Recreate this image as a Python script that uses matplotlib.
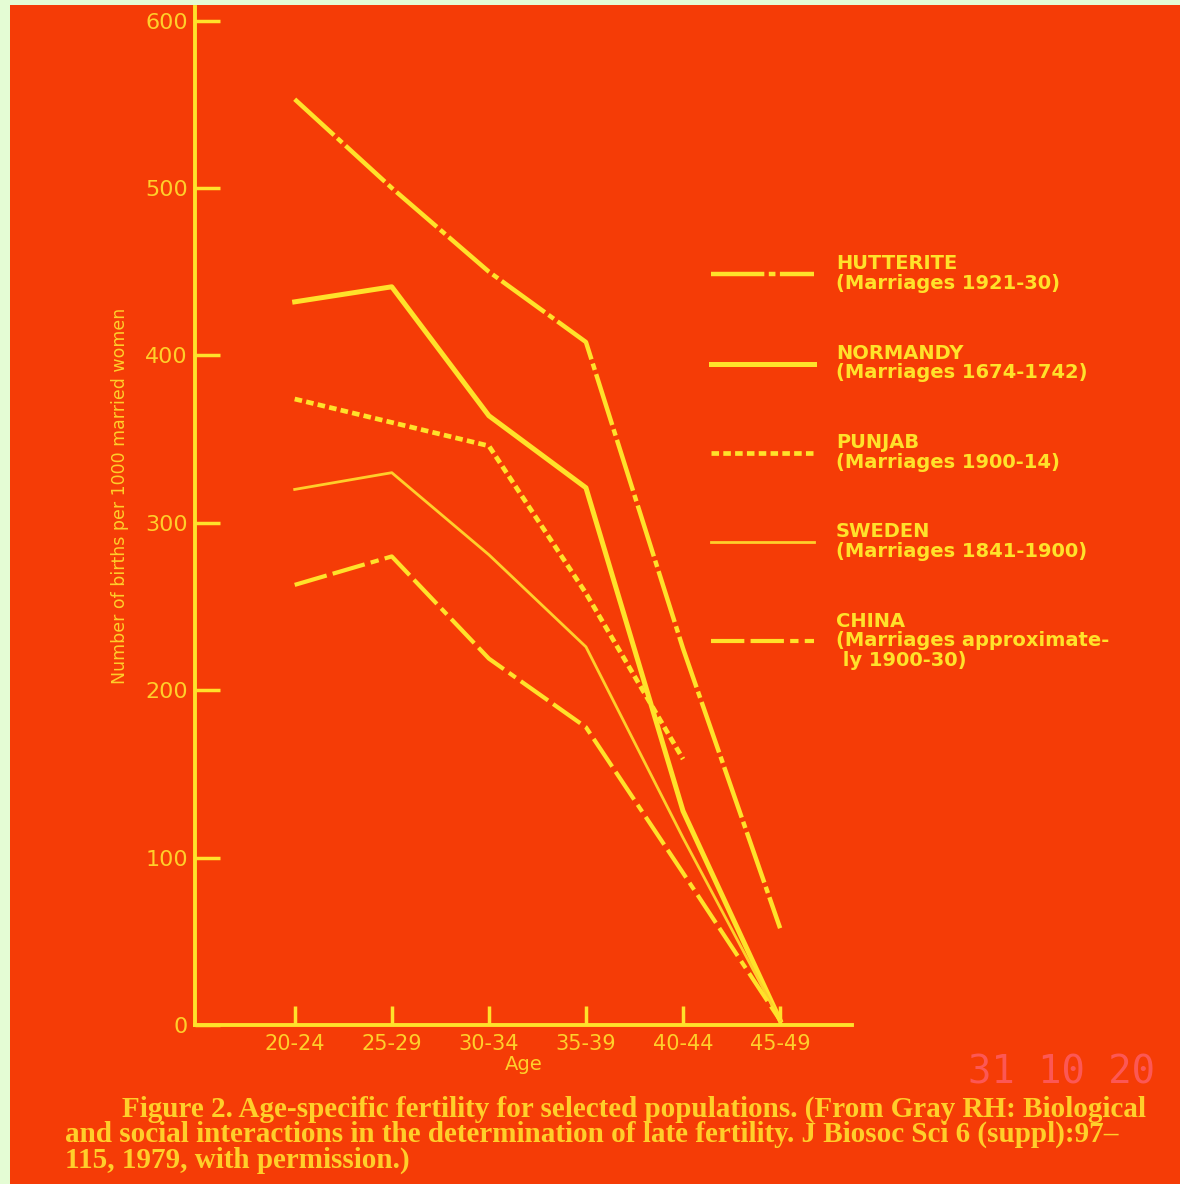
import numpy as np
import matplotlib.pyplot as plt
from matplotlib.patches import Rectangle

ages = ["20-24", "25-29", "30-34", "35-39", "40-44", "45-49"]

hutterite = [553, 500, 450, 408, 225, 58]
normandy = [432, 441, 364, 321, 128, 3]
punjab = [374, 360, 346, 258, 159, np.nan]
sweden = [320, 330, 281, 226, 112, 3]
china = [263, 280, 219, 178, 91, 3]

labels = ["HUTTERITE\n(Marriages 1921-30)",
          "NORMANDY\n(Marriages 1674-1742)",
          "PUNJAB\n(Marriages 1900-14)",
          "SWEDEN\n(Marriages 1841-1900)",
          "CHINA\n(Marriages approximate-\n ly 1900-30)"]

bg = '#f53c06'
yel = '#ffe22a'
yel2 = '#ffcf2a'

fig = plt.figure(figsize=(11.8, 11.84), dpi=100, facecolor='#e4fcd4')
fig.patches.append(Rectangle((10/1180, 0), 1, 1 - 5/1184, transform=fig.transFigure,
                             facecolor=bg, edgecolor='none', zorder=-10))

ax = fig.add_axes([0.165, 0.134, 0.557, 0.86])
ax.set_facecolor('none')
x = np.arange(len(ages))

ax.plot(x, hutterite, color=yel, lw=3.2, dashes=(12, 1, 1.5, 1), label=labels[0])
ax.plot(x, normandy, color=yel, lw=3.6, label=labels[1])
ax.plot(x, punjab, color=yel, lw=3.4, dashes=(1.6, 0.9), label=labels[2])
ax.plot(x, sweden, color=yel2, lw=2.0, label=labels[3])
ax.plot(x, china, color=yel, lw=3.0, dashes=(8, 1.5, 8, 1.5, 2, 1.5), label=labels[4])

ax.set_xlim(-1.03, 5.74)
ax.set_ylim(0, 608)
ax.set_xticks(x)
ax.set_xticklabels(ages)
ax.set_yticks([0, 100, 200, 300, 400, 500, 600])

for s in ['top', 'right']:
    ax.spines[s].set_visible(False)
for s in ['left', 'bottom']:
    ax.spines[s].set_color(yel)
    ax.spines[s].set_linewidth(2.8)

ax.tick_params(axis='y', direction='in', length=18, width=2.5, color=yel,
               labelcolor=yel2, labelsize=16, pad=5)
ax.tick_params(axis='x', direction='in', length=14, width=2.5, color=yel,
               labelcolor=yel2, labelsize=15, pad=6)
ax.set_xlabel("Age", color=yel2, fontsize=14, labelpad=1)
ax.set_ylabel("Number of births per 1000 married women", color=yel2, fontsize=12.5)
ax.yaxis.set_label_coords(-0.1, 0.52)

leg = fig.legend(loc='upper left', bbox_to_anchor=(0.588, 0.8), frameon=False,
                 handlelength=5.3, handletextpad=1.1, labelspacing=2.6,
                 prop={'weight': 'bold', 'size': 14})
for t in leg.get_texts():
    t.set_color(yel)
    t.set_linespacing(1.05)

line1 = "Figure 2. Age-specific fertility for selected populations. (From Gray RH: Biological"
rest = ("and social interactions in the determination of late fertility. J Biosoc Sci 6 (suppl):97\u2013\n"
        "115, 1979, with permission.)")
fig.text(122/1180, 1 - 1096/1184, line1, family='Liberation Serif',
         fontsize=21, fontweight='bold', color=yel2, va='top', ha='left')
fig.text(65/1180, 1 - 1121/1184, rest, family='Liberation Serif',
         fontsize=21, fontweight='bold', color=yel2, va='top', ha='left', linespacing=0.9)

fig.text(968/1180, 1 - 1073/1184, "31 10 20", family='DejaVu Sans Mono', fontsize=28,
         color='#ff5f6a', va='center', ha='left', alpha=0.8)

fig.savefig("out.png", dpi=100, facecolor=fig.get_facecolor())
